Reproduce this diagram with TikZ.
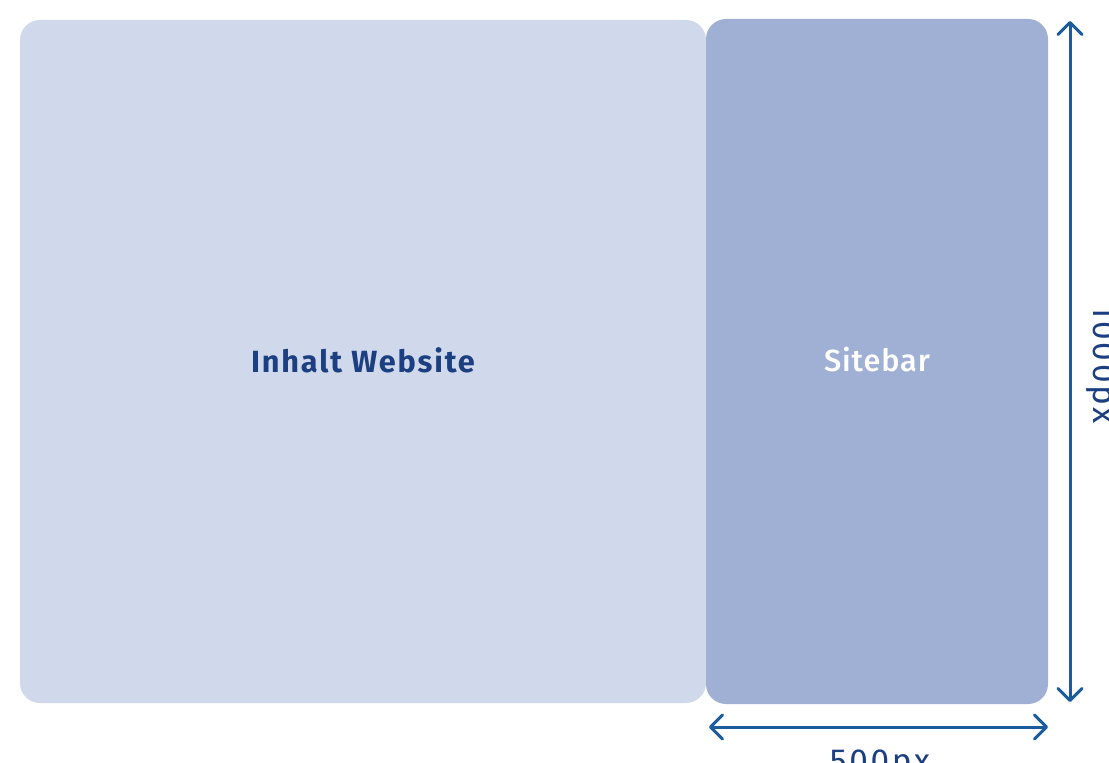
\documentclass[tikz,border=0pt]{standalone}
\usepackage{fontspec}
\setmainfont{Fira Sans}
\newfontfamily\firamed{Fira Sans Medium}[LetterSpace=3]
\newfontfamily\firawide{Fira Sans}[LetterSpace=8]
\usetikzlibrary{arrows.meta}
\definecolor{lightbox}{HTML}{CFD9EB}
\definecolor{darkbox}{HTML}{A0AFD4}
\definecolor{titleblue}{HTML}{1B3F80}
\definecolor{dimblue}{HTML}{1A5C9C}
\tikzset{
  panel/.style={rounded corners=20*0.75pt, draw=none},
  dimline/.style={draw=dimblue, line width=3*0.75pt, line cap=round,
    {Straight Barb[length=9pt,width=18pt,line width=3*0.75pt, line cap=round, line join=round]}-{Straight Barb[length=9pt,width=18pt,line width=3*0.75pt, line cap=round, line join=round]}},
  dimlabel/.style={text=titleblue, font=\firawide\fontsize{25}{29}\selectfont, inner sep=0pt}
}
\begin{document}
\begin{tikzpicture}[x=0.75pt,y=-0.75pt]
\useasboundingbox (0,0) rectangle (1109,763);
\fill[white] (0,0) rectangle (1109,763);
\fill[lightbox, panel] (20,20) rectangle (706,703);
\fill[darkbox, panel] (706,19) rectangle (1048,704);
\node (content) [text=titleblue, font=\bfseries\addfontfeatures{LetterSpace=6}\fontsize{23}{27}\selectfont] at (363,360) {Inhalt Website};
\node (sidebar) [text=white, font=\firamed\fontsize{23}{27}\selectfont] at (877,360) {Sitebar};
\coordinate (vtop) at (1070,21);
\coordinate (vbot) at (1070,702);
\coordinate (hl) at (709,727);
\coordinate (hr) at (1048,727);
\draw[dimline] (vtop) -- (vbot);
\draw[dimline] (hl) -- (hr);
\node (hlabel) [dimlabel, rotate=-90, anchor=base] at (1093,364) {1000px};
\node (wlabel) [dimlabel, anchor=base] at (880,772) {500px};
\end{tikzpicture}
\end{document}
